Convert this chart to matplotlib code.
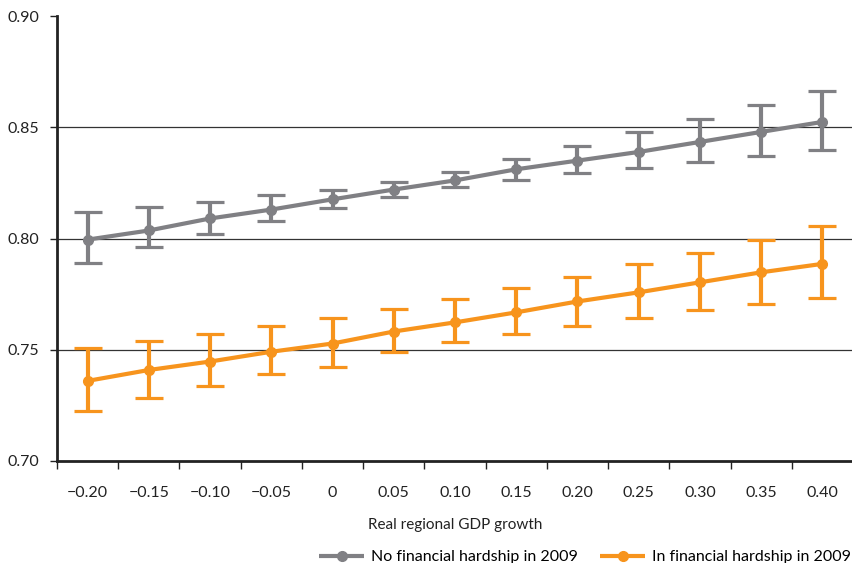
import matplotlib
matplotlib.use("Agg")
import matplotlib.pyplot as plt
import numpy as np

plt.rcParams['font.family'] = ['Lato', 'DejaVu Sans']

categories = ["\u22120.20", "\u22120.15", "\u22120.10", "\u22120.05", "0", "0.05", "0.10",
              "0.15", "0.20", "0.25", "0.30", "0.35", "0.40"]

no_hardship = [0.7995, 0.8036, 0.8090, 0.8130, 0.8176, 0.8220, 0.8261, 0.8311, 0.8350,
               0.8389, 0.8434, 0.8479, 0.8524]
no_hardship_low = [0.7892, 0.7960, 0.8018, 0.8077, 0.8137, 0.8185, 0.8230, 0.8261, 0.8293,
                   0.8317, 0.8342, 0.8369, 0.8396]
no_hardship_high = [0.8117, 0.8140, 0.8162, 0.8194, 0.8220, 0.8252, 0.8297, 0.8356, 0.8414,
                    0.8477, 0.8537, 0.8602, 0.8662]

hardship = [0.7360, 0.7409, 0.7447, 0.7491, 0.7528, 0.7582, 0.7623, 0.7668, 0.7717,
            0.7758, 0.7803, 0.7848, 0.7886]
hardship_low = [0.7225, 0.7282, 0.7338, 0.7390, 0.7423, 0.7488, 0.7533, 0.7573, 0.7608,
                0.7643, 0.7679, 0.7706, 0.7733]
hardship_high = [0.7510, 0.7540, 0.7573, 0.7605, 0.7643, 0.7683, 0.7728, 0.7776, 0.7829,
                 0.7886, 0.7935, 0.7995, 0.8057]

y_ticks = [0.70, 0.75, 0.80, 0.85, 0.90]
y_ticklabels = ["0.70", "0.75", "0.80", "0.85", "0.90"]

series_names = ["No financial hardship in 2009", "In financial hardship in 2009"]
gray = "#808084"
orange = "#F7941D"

fig = plt.figure(figsize=(8.53, 5.63), dpi=100)
ax = fig.add_axes([57/853, 1-461/563, 1-57/853, (461-16)/563])

x = np.arange(len(categories))

def draw(vals, low, high, color, label):
    v = np.array(vals)
    err = np.vstack([v - np.array(low), np.array(high) - v])
    ax.errorbar(x, v, yerr=err, fmt='none', ecolor=color, elinewidth=3,
                capsize=10, capthick=2.3, zorder=3)
    ax.plot(x, v, color=color, lw=3, marker='o', markersize=7, label=label,
            zorder=4, solid_capstyle='butt')

draw(no_hardship, no_hardship_low, no_hardship_high, gray, series_names[0])
draw(hardship, hardship_low, hardship_high, orange, series_names[1])

ax.set_xlim(-0.5, len(categories) - 0.5)
ax.set_ylim(0.70, 0.90)

for yv in [0.75, 0.80, 0.85]:
    ax.axhline(yv, color="#333333", lw=0.9, zorder=1)

ax.spines['top'].set_visible(False)
ax.spines['right'].set_visible(False)
ax.spines['left'].set_linewidth(2)
ax.spines['bottom'].set_linewidth(2)
ax.spines['left'].set_color("#222222")
ax.spines['bottom'].set_color("#222222")

ax.set_yticks(y_ticks)
ax.set_yticklabels(y_ticklabels, fontsize=11.5, color="#222222")
ax.tick_params(axis='y', length=5, width=1, pad=8, color="#222222")

ax.set_xticks(x)
ax.set_xticklabels(categories, fontsize=11.5, color="#222222")
ax.set_xticks(np.arange(len(categories) + 1) - 0.5, minor=True)
ax.tick_params(axis='x', which='major', length=0, pad=18)
ax.tick_params(axis='x', which='minor', length=6, width=1, color="#222222")

ax.set_xlabel("Real regional GDP growth", fontsize=11, color="#222222", labelpad=13)

ax.legend(loc='lower right', bbox_to_anchor=(1.0, -0.005), bbox_transform=fig.transFigure,
          ncol=2, frameon=False, fontsize=11.5, handlelength=2.8, handletextpad=0.45,
          columnspacing=1.4, borderpad=0.1, borderaxespad=0)

fig.savefig("out.png", dpi=100)
